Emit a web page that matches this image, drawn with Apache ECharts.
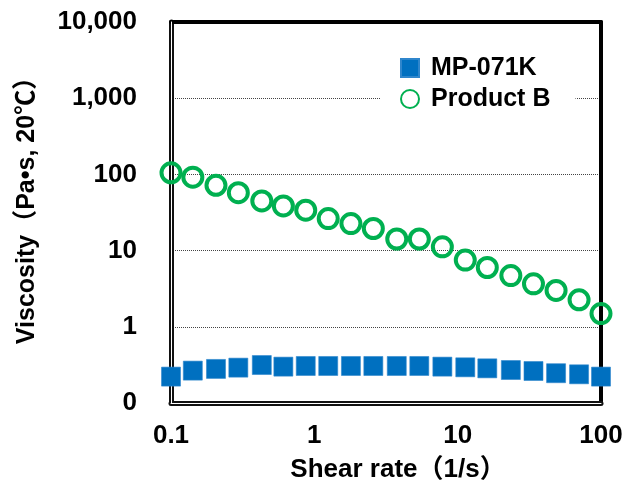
<!DOCTYPE html>
<html>
<head>
<meta charset="utf-8">
<script src="https://cdn.jsdelivr.net/npm/echarts@6/dist/echarts.min.js"></script>
<style>
  html, body { margin: 0; padding: 0; background: #fff; }
  #chart { width: 627px; height: 483px; }
</style>
</head>
<body>
<div id="chart"></div>
<script>
// shear rate sweep (1/s)
const shearRates = [0.1, 0.142, 0.206, 0.295, 0.43, 0.608, 0.871, 1.25, 1.8, 2.58,
  3.76, 5.4, 7.82, 11.3, 16.1, 23.5, 33.8, 48.6, 70.3, 100];

// viscosity (Pa·s)
const mp071k = [0.222, 0.266, 0.28, 0.291, 0.315, 0.3, 0.306, 0.306, 0.306, 0.306,
  0.306, 0.306, 0.3, 0.294, 0.285, 0.271, 0.263, 0.246, 0.238, 0.222];
const productB = [105, 92, 72, 57.5, 44.8, 38.5, 33.9, 26.3, 22.6, 19.5,
  14.2, 14.2, 11.2, 7.5, 6.0, 4.7, 3.66, 3.0, 2.26, 1.49];

const seriesNames = ['MP-071K', 'Product B'];
const xTitle = 'Shear rate（1/s）';
const yTitle = 'Viscosity（Pa•s, 20℃）';

const titleFont = '"Liberation Sans", "Noto Sans CJK JP", sans-serif';
const tickFont = '"Liberation Sans", Arial, sans-serif';

const chart = echarts.init(document.getElementById('chart'));

const pairs = (ys) => shearRates.map((x, i) => [x, ys[i]]);
const fmtY = (v) => v < 1 ? '0' : Math.round(v).toLocaleString('en-US');

// plain axis used only to draw one side of the frame
function frameAxis(range, position, color, width, z) {
  return {
    type: 'log', logBase: 10, min: range[0], max: range[1], position: position,
    z: z,
    axisLine: { show: true, onZero: false, lineStyle: { color: color, width: width } },
    axisTick: { show: false },
    axisLabel: { show: false },
    splitLine: { show: false }
  };
}

const xRange = [0.1, 100];
const yRange = [0.1, 10000];

chart.setOption({
  backgroundColor: '#fff',
  animation: false,
  grid: { left: 171, right: 26, top: 22, bottom: 80, outerBoundsMode: 'none', containLabel: false },
  legend: {
    orient: 'vertical',
    left: 380,
    top: 47,
    padding: [8, 25, 8, 20],
    backgroundColor: '#fff',
    itemWidth: 18,
    itemHeight: 18,
    itemGap: 5,
    textStyle: {
      fontFamily: titleFont,
      fontWeight: 'bold',
      fontSize: 25,
      lineHeight: 26,
      color: '#000',
      padding: [0, 0, 0, 7]
    },
    data: [
      { name: seriesNames[0], icon: 'rect' },
      { name: seriesNames[1], icon: 'circle' }
    ]
  },
  xAxis: [
    {
      type: 'log', logBase: 10, min: xRange[0], max: xRange[1],
      position: 'bottom',
      name: xTitle,
      nameLocation: 'middle',
      nameGap: 54,
      nameTextStyle: {
        fontFamily: titleFont, fontWeight: 'bold', fontSize: 26, color: '#000',
        padding: [0, 0, 0, 24]
      },
      axisLine: { show: true, onZero: false, lineStyle: { color: '#111', width: 5 } },
      axisTick: { show: false },
      splitLine: { show: false },
      axisLabel: {
        fontFamily: tickFont, fontWeight: 'bold', fontSize: 26, color: '#000', margin: 20,
        formatter: (v) => String(v)
      }
    },
    frameAxis(xRange, 'bottom', '#fff', 1, 1),
    frameAxis(xRange, 'top', '#000', 4, 0)
  ],
  yAxis: [
    {
      type: 'log', logBase: 10, min: yRange[0], max: yRange[1],
      position: 'left',
      name: yTitle,
      nameLocation: 'middle',
      nameGap: 131,
      nameTextStyle: {
        fontFamily: titleFont, fontWeight: 'bold', fontSize: 25, color: '#000',
        padding: [0, 0, 0, 16]
      },
      axisLine: { show: true, onZero: false, lineStyle: { color: '#111', width: 5 } },
      axisTick: { show: false },
      splitLine: { show: true, lineStyle: { color: '#444', width: 1, type: 'dotted' } },
      axisLabel: {
        fontFamily: tickFont, fontWeight: 'bold', fontSize: 26, color: '#000', margin: 34,
        formatter: fmtY
      }
    },
    frameAxis(yRange, 'left', '#fff', 1, 1),
    frameAxis(yRange, 'right', '#000', 4, 0)
  ],
  series: [
    {
      name: seriesNames[0],
      type: 'scatter',
      symbol: 'rect',
      symbolSize: 19,
      clip: false,
      itemStyle: { color: '#0070C0', opacity: 1, borderColor: '#2f86cc', borderWidth: 0.6 },
      data: pairs(mp071k)
    },
    {
      name: seriesNames[1],
      type: 'scatter',
      symbol: 'circle',
      symbolSize: 19,
      clip: false,
      itemStyle: { color: 'rgba(255,255,255,0)', opacity: 1, borderColor: '#00B050', borderWidth: 4 },
      data: pairs(productB)
    }
  ]
});
</script>
</body>
</html>
